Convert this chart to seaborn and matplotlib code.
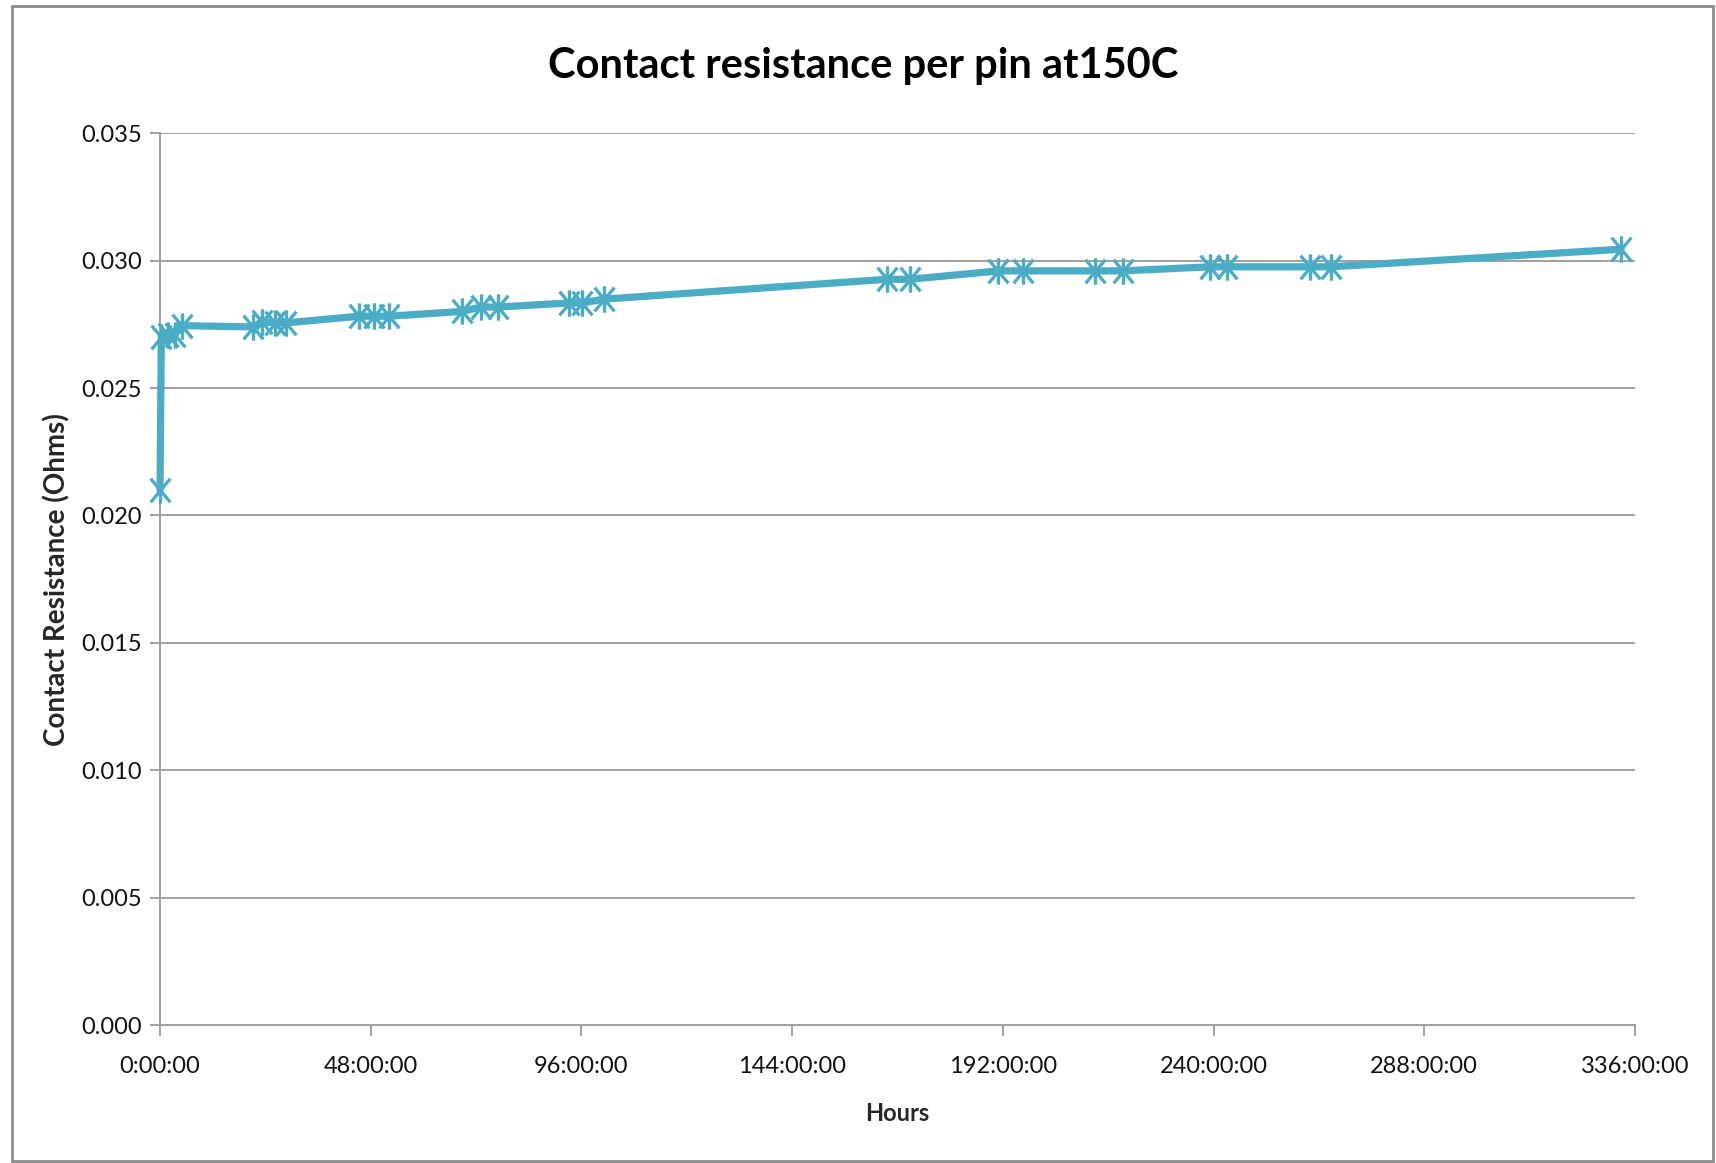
import matplotlib
matplotlib.use("Agg")
import matplotlib.pyplot as plt
from matplotlib.path import Path
from matplotlib.patches import Rectangle
import seaborn as sns
import pandas as pd

# Elapsed time at 150C (hours) and measured contact resistance per pin (ohms)
hours = [0, 0.3, 1.9, 3.4, 5.0, 21.1, 23.3, 26.1, 28.8, 45.4, 48.8, 52.2,
         68.9, 73.1, 76.9, 93.2, 96.2, 101.1, 165.5, 170.8, 191.0, 196.7,
         213.0, 219.3, 239.2, 243.0, 262.0, 266.8, 332.8]
resistance = [0.0210, 0.0270, 0.0271, 0.0271, 0.02745, 0.02740, 0.02760,
              0.02756, 0.02756, 0.02782, 0.02782, 0.02782, 0.02801, 0.02818,
              0.02818, 0.02834, 0.02834, 0.02849, 0.02927, 0.02927, 0.02960,
              0.02960, 0.02960, 0.02960, 0.02976, 0.02976, 0.02976, 0.02976,
              0.03045]

x_ticks = [0, 48, 96, 144, 192, 240, 288, 336]
x_tick_labels = ["0:00:00", "48:00:00", "96:00:00", "144:00:00", "192:00:00",
                 "240:00:00", "288:00:00", "336:00:00"]
y_ticks = [0.000, 0.005, 0.010, 0.015, 0.020, 0.025, 0.030, 0.035]
y_tick_labels = ["0.000", "0.005", "0.010", "0.015", "0.020", "0.025",
                 "0.030", "0.035"]

df = pd.DataFrame({"Hours": hours, "Resistance": resistance})

sns.set_theme(style="white")
plt.rcParams["font.family"] = ["Lato", "DejaVu Sans"]

LINE = "#4BACC6"
GRID = "#A0A0A0"

fig = plt.figure(figsize=(17.16, 11.63), dpi=100)
ax = fig.add_axes([160 / 1716, 1 - 1025 / 1163, 1475 / 1716, (1025 - 133.3) / 1163])

# asterisk-style marker: vertical bar crossed by two diagonals
star = Path(
    [(0, -1), (0, 1), (-0.75, -0.9), (0.75, 0.9), (-0.75, 0.9), (0.75, -0.9)],
    [Path.MOVETO, Path.LINETO] * 3,
)

sns.lineplot(data=df, x="Hours", y="Resistance", ax=ax, color=LINE,
             linewidth=5.2, marker=star, markersize=19, markeredgewidth=2.4,
             markeredgecolor=LINE, markerfacecolor="none", sort=False,
             solid_joinstyle="round", clip_on=False, zorder=3)

ax.set_xlim(0, 336)
ax.set_ylim(0, 0.035)
ax.set_xticks(x_ticks)
ax.set_xticklabels(x_tick_labels)
ax.set_yticks(y_ticks)
ax.set_yticklabels(y_tick_labels)

ax.grid(axis="y", color=GRID, linewidth=1.4)
ax.grid(axis="x", visible=False)
ax.set_axisbelow(True)
for side in ("top", "right"):
    ax.spines[side].set_visible(False)
for side in ("left", "bottom"):
    ax.spines[side].set_color(GRID)
    ax.spines[side].set_linewidth(1.4)

ax.tick_params(axis="y", which="major", direction="out", length=7, width=1.4,
               color=GRID, labelsize=17, labelcolor="#111111", pad=6, left=True)
ax.tick_params(axis="x", which="major", direction="out", length=8, width=1.4,
               color=GRID, labelsize=17, labelcolor="#111111", pad=14, bottom=True)

ax.set_xlabel("Hours", fontsize=17, fontweight="bold", labelpad=18)
ax.set_ylabel("Contact Resistance (Ohms)", fontsize=20, fontweight="bold",
              labelpad=8)

fig.text(863 / 1716, 1 - 66 / 1163,
         "Contact resistance per pin at150C", ha="center", va="center",
         fontsize=30, fontweight="bold", color="black")

# outer chart border
fig.patches.append(Rectangle((12 / 1716, 2 / 1163), 1701 / 1716, 1155 / 1163,
                             transform=fig.transFigure, fill=False,
                             edgecolor="#8C8C8C", linewidth=2))

fig.savefig("out.png", dpi=100, facecolor="white")
